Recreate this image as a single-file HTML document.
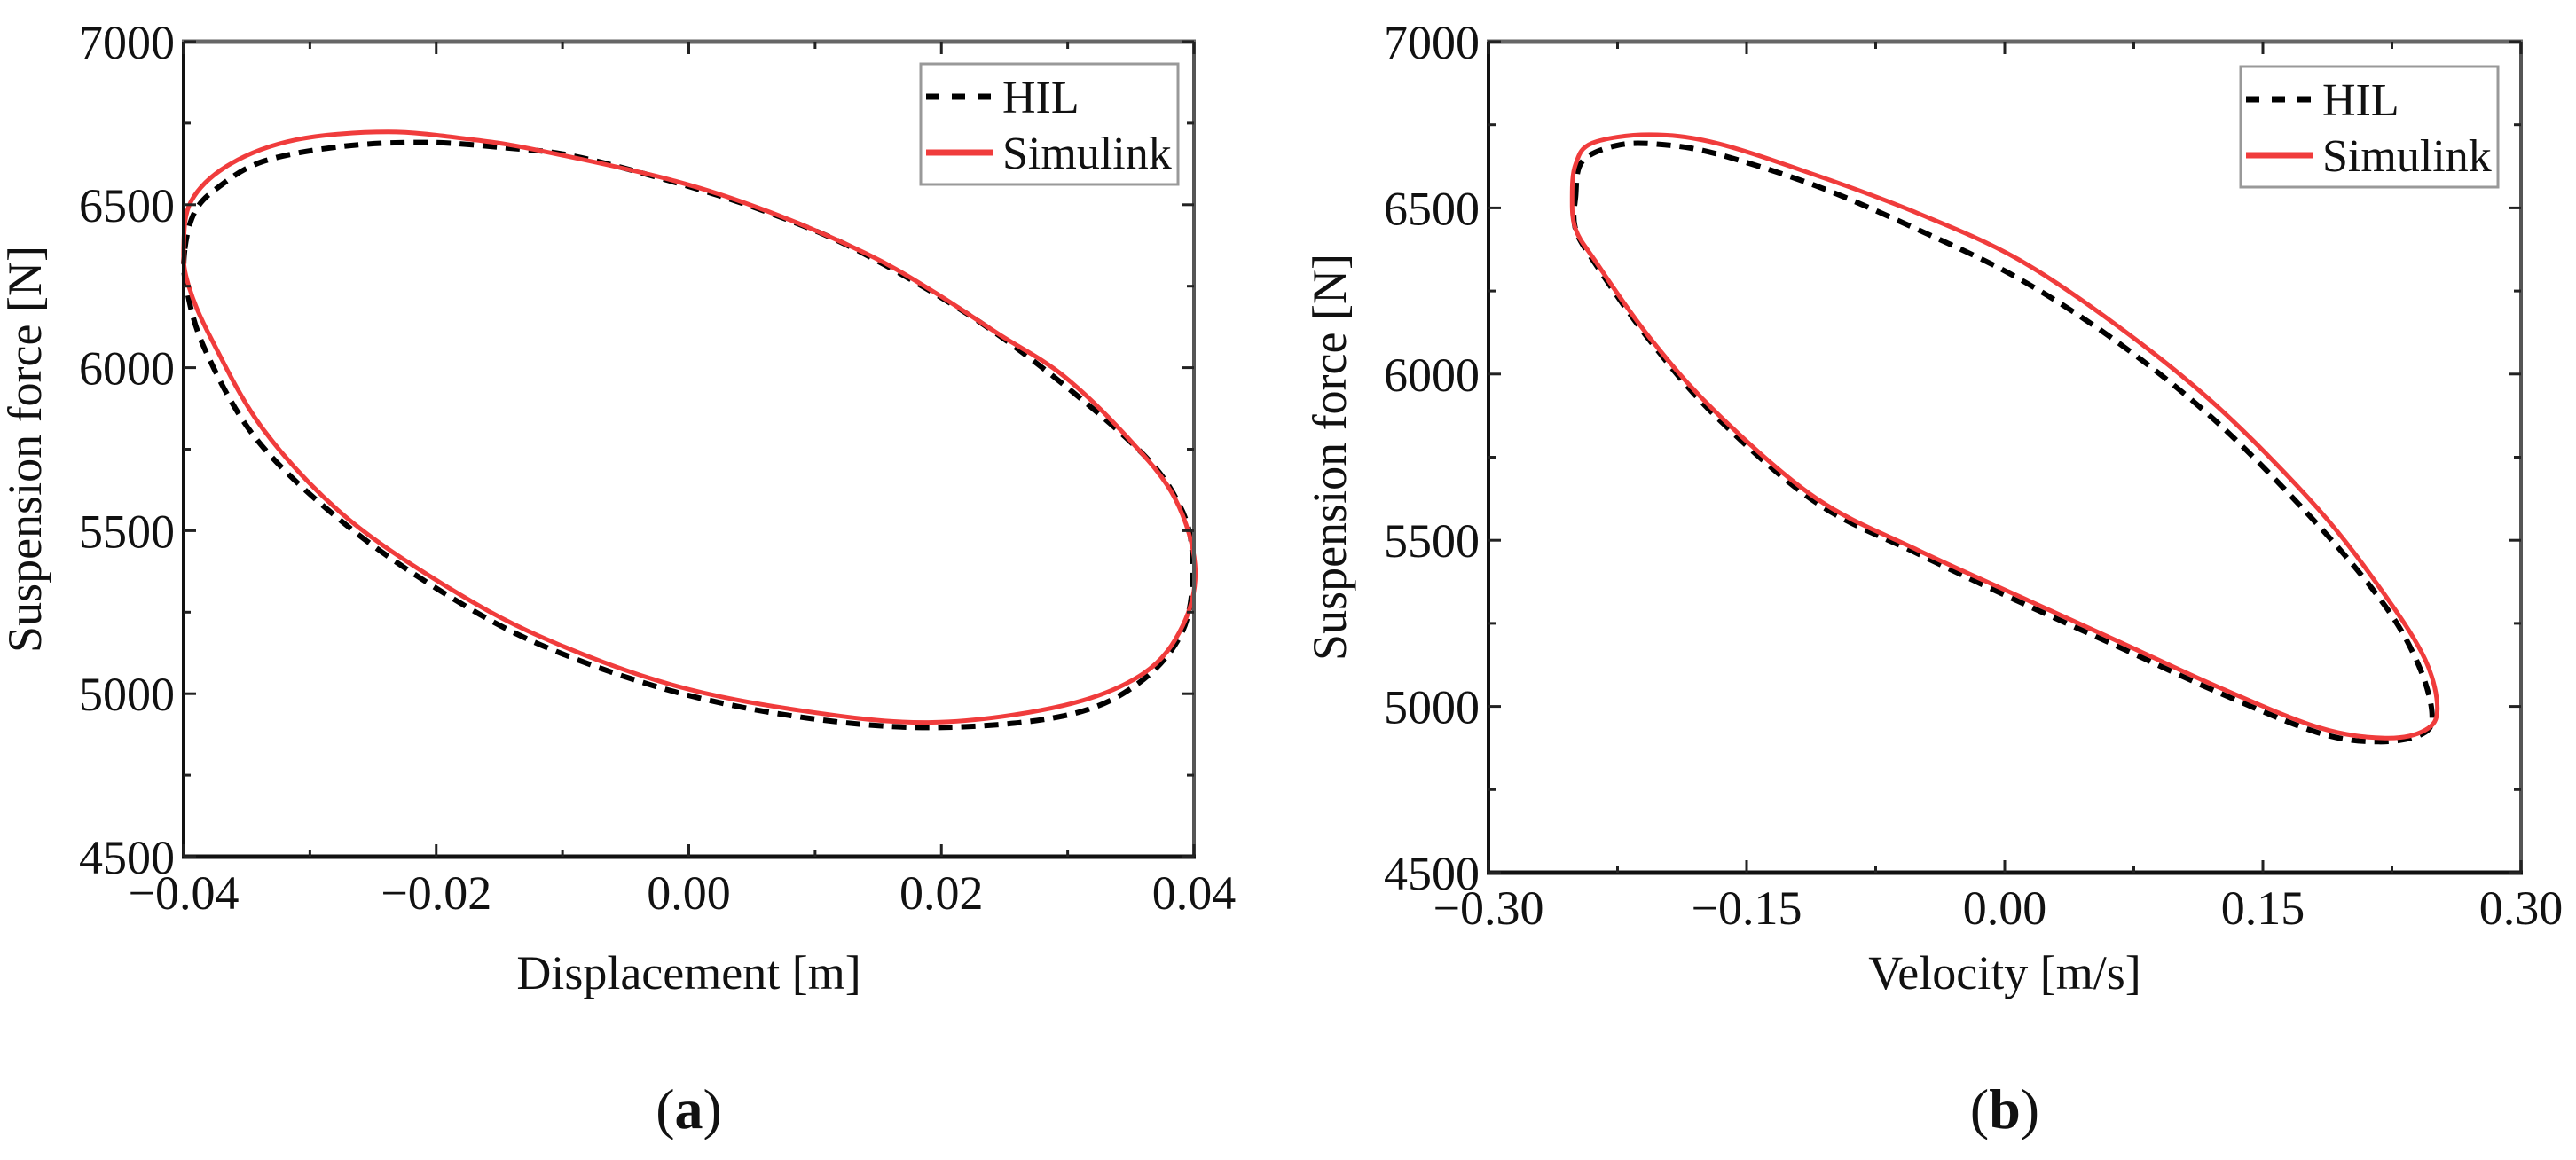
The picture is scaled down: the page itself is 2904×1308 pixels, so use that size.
<!DOCTYPE html>
<html><head><meta charset="utf-8"><style>
html,body{margin:0;padding:0;background:#fff;}
svg{display:block;font-family:"Liberation Serif","DejaVu Serif",serif;}
</style></head><body>
<svg id="fig" width="2904" height="1308" viewBox="0 0 2904 1308" xmlns="http://www.w3.org/2000/svg">
<g id="pa"></g>
<g id="pb"></g>
</svg>
<script>
// ---------- data (panel a: displacement vs force) ----------
const aSimX=[-0.0400,-0.0394,-0.0363,-0.0311,-0.0238,-0.0170,-0.0118,-0.0015,0.0063,0.0141,0.0193,0.0245,0.0297,0.0349,0.0385,0.0401,0.0391,0.0360,0.0297,0.0193,0.0089,-0.0015,-0.0118,-0.0196,-0.0274,-0.0337,-0.0378,-0.0396];
const aSimY=[6365,6511,6625,6699,6723,6699,6666,6577,6479,6349,6235,6104,5974,5779,5599,5388,5208,5062,4964,4912,4948,5029,5176,5339,5550,5811,6088,6251];
const aHilX=[-0.0399,-0.0391,-0.0373,-0.0337,-0.0274,-0.0207,-0.0144,-0.0092,-0.0015,0.0063,0.0141,0.0245,0.0349,0.0388,0.0399,0.0391,0.0355,0.0297,0.0193,0.0089,-0.0015,-0.0118,-0.0196,-0.0274,-0.0342,-0.0383,-0.0398];
const aHilY=[6365,6479,6552,6633,6679,6691,6674,6650,6573,6476,6345,6101,5775,5583,5404,5192,5029,4932,4896,4928,5010,5151,5314,5526,5779,6055,6251];
const aXTicks=["\u22120.04","\u22120.02","0.00","0.02","0.04"];
const aXTickVals=[-0.04,-0.02,0,0.02,0.04];
// ---------- data (panel b: velocity vs force) ----------
const bSimX=[-0.2514,-0.2494,-0.2397,-0.2067,-0.1678,-0.1095,-0.0511,0.0072,0.0655,0.1238,0.1822,0.2211,0.2444,0.2514,0.2444,0.2211,0.1822,0.1238,0.0655,0.0072,-0.0511,-0.1095,-0.1678,-0.2067,-0.2378,-0.2494];
const bSimY=[6533,6631,6695,6720,6695,6598,6485,6347,6145,5901,5594,5334,5140,4994,4929,4905,4937,5059,5197,5334,5472,5626,5885,6112,6339,6436];
const bHilX=[-0.2494,-0.2456,-0.2261,-0.2028,-0.1678,-0.1095,-0.0511,0.0072,0.0655,0.1238,0.1822,0.2211,0.2405,0.2483,0.2425,0.2172,0.1822,0.1238,0.0655,0.0072,-0.0511,-0.1095,-0.1678,-0.2067,-0.2378,-0.2494];
const bHilY=[6533,6639,6687,6692,6663,6566,6436,6290,6096,5853,5545,5302,5124,4978,4917,4894,4921,5043,5181,5318,5461,5613,5872,6104,6331,6436];
const bXTicks=["\u22120.30","\u22120.15","0.00","0.15","0.30"];
const bXTickVals=[-0.30,-0.15,0,0.15,0.30];
const yTicks=["4500","5000","5500","6000","6500","7000"];
const yTickVals=[4500,5000,5500,6000,6500,7000];

const NS="http://www.w3.org/2000/svg";
function mk(tag,attrs,parent){const e=document.createElementNS(NS,tag);for(const k in attrs)e.setAttribute(k,attrs[k]);parent.appendChild(e);return e;}

function closedPath(pts){
  const n=pts.length;let d="M"+pts[0][0].toFixed(1)+","+pts[0][1].toFixed(1);
  for(let i=0;i<n;i++){
    const p0=pts[(i-1+n)%n],p1=pts[i],p2=pts[(i+1)%n],p3=pts[(i+2)%n];
    const c1x=p1[0]+(p2[0]-p0[0])/6,c1y=p1[1]+(p2[1]-p0[1])/6;
    const c2x=p2[0]-(p3[0]-p1[0])/6,c2y=p2[1]-(p3[1]-p1[1])/6;
    d+=" C"+c1x.toFixed(1)+","+c1y.toFixed(1)+" "+c2x.toFixed(1)+","+c2y.toFixed(1)+" "+p2[0].toFixed(1)+","+p2[1].toFixed(1);
  }
  return d+"Z";
}

function panel(g,cfg){
  const {L,R,T,B,xmin,xmax,xTicks,xTickVals,simX,simY,hilX,hilY,xTitle,tag,legX,legY,tickBase,titleYX}=cfg;
  const sx=v=>L+(v-xmin)/(xmax-xmin)*(R-L);
  const sy=v=>B-(v-4500)/(7000-4500)*(B-T);
  // curves
  const simPts=simX.map((x,i)=>[sx(x),sy(simY[i])]);
  const hilPts=hilX.map((x,i)=>[sx(x),sy(hilY[i])]);
  const hp=mk("path",{d:closedPath(hilPts),fill:"none",stroke:"#000","stroke-width":6,"stroke-dasharray":"16,10"},g);
  
  
  const sp=mk("path",{d:closedPath(simPts),fill:"none",stroke:"#f03c3c","stroke-width":5},g);
  
  
  // axes frame
  const ax=mk("g",{},g);
  
  
  mk("line",{x1:L-2,y1:T,x2:R+2,y2:T,stroke:"#666","stroke-width":5},ax);
  mk("line",{x1:R,y1:T,x2:R,y2:B,stroke:"#555","stroke-width":4},ax);
  mk("line",{x1:L,y1:T,x2:L,y2:B,stroke:"#111","stroke-width":4},ax);
  mk("line",{x1:L-2,y1:B,x2:R+2,y2:B,stroke:"#111","stroke-width":5},ax);
  // x ticks
  for(let i=0;i<xTickVals.length;i++){
    const x=sx(xTickVals[i]);
    mk("line",{x1:x,y1:B,x2:x,y2:B-14,stroke:"#222","stroke-width":3},ax);
    mk("line",{x1:x,y1:T,x2:x,y2:T+14,stroke:"#222","stroke-width":3},ax);
    if(i<xTickVals.length-1){const xm=sx((xTickVals[i]+xTickVals[i+1])/2);
      mk("line",{x1:xm,y1:B,x2:xm,y2:B-8,stroke:"#222","stroke-width":3},ax);
      mk("line",{x1:xm,y1:T,x2:xm,y2:T+8,stroke:"#222","stroke-width":3},ax);}
    const t=mk("text",{x:x,y:tickBase,"font-size":54,"text-anchor":"middle",fill:"#111"},g);
    t.textContent=xTicks[i];
    
    
  }
  for(let i=0;i<yTickVals.length;i++){
    const y=sy(yTickVals[i]);
    mk("line",{x1:L,y1:y,x2:L+14,y2:y,stroke:"#222","stroke-width":3},ax);
    mk("line",{x1:R,y1:y,x2:R-14,y2:y,stroke:"#222","stroke-width":3},ax);
    if(i<yTickVals.length-1){const ym=sy((yTickVals[i]+yTickVals[i+1])/2);
      mk("line",{x1:L,y1:ym,x2:L+8,y2:ym,stroke:"#222","stroke-width":3},ax);
      mk("line",{x1:R,y1:ym,x2:R-8,y2:ym,stroke:"#222","stroke-width":3},ax);}
    const t=mk("text",{x:L-10,y:y+19,"font-size":54,"text-anchor":"end",fill:"#111"},g);
    t.textContent=yTicks[i];
    
    
  }
  const xt=mk("text",{x:(L+R)/2,y:1115,"font-size":54,"text-anchor":"middle",fill:"#111"},g);
  xt.textContent=xTitle;
  
  
  const cy=(T+B)/2;
  const yt=mk("text",{x:titleYX,y:cy,"font-size":54,"text-anchor":"middle",fill:"#111",transform:"rotate(-90 "+titleYX+" "+cy+")"},g);
  yt.textContent="Suspension force [N]";
  
  
  // legend
  const lg=mk("g",{},g);
  
  
  mk("rect",{x:legX,y:legY,width:290,height:136,fill:"#fff",stroke:"#999","stroke-width":3},lg);
  mk("line",{x1:legX+6,y1:legY+37,x2:legX+82,y2:legY+37,stroke:"#000","stroke-width":7,"stroke-dasharray":"15,14"},lg);
  const l1=mk("text",{x:legX+92,y:legY+55,"font-size":52,fill:"#111"},lg);
  l1.textContent="HIL";
  
  
  mk("line",{x1:legX+6,y1:legY+100,x2:legX+82,y2:legY+100,stroke:"#f03c3c","stroke-width":7},lg);
  const l2=mk("text",{x:legX+92,y:legY+118,"font-size":52,fill:"#111"},lg);
  l2.textContent="Simulink";
  
  
  // panel tag
  const tg=mk("text",{x:(L+R)/2,y:1272,"font-size":64,"text-anchor":"middle",fill:"#111"},g);
  tg.innerHTML='(<tspan font-weight="bold">'+tag+'</tspan>)';
  
  
}
panel(document.getElementById("pa"),{L:207,R:1346,T:47,B:966,xmin:-0.04,xmax:0.04,xTicks:aXTicks,xTickVals:aXTickVals,simX:aSimX,simY:aSimY,hilX:aHilX,hilY:aHilY,xTitle:"Displacement [m]",tag:"a",legX:1038,legY:72,tickBase:1025,titleYX:46});
panel(document.getElementById("pb"),{L:1678,R:2842,T:47,B:984,xmin:-0.30,xmax:0.30,xTicks:bXTicks,xTickVals:bXTickVals,simX:bSimX,simY:bSimY,hilX:bHilX,hilY:bHilY,xTitle:"Velocity [m/s]",tag:"b",legX:2526,legY:75,tickBase:1042,titleYX:1517});
</script>
</body></html>
